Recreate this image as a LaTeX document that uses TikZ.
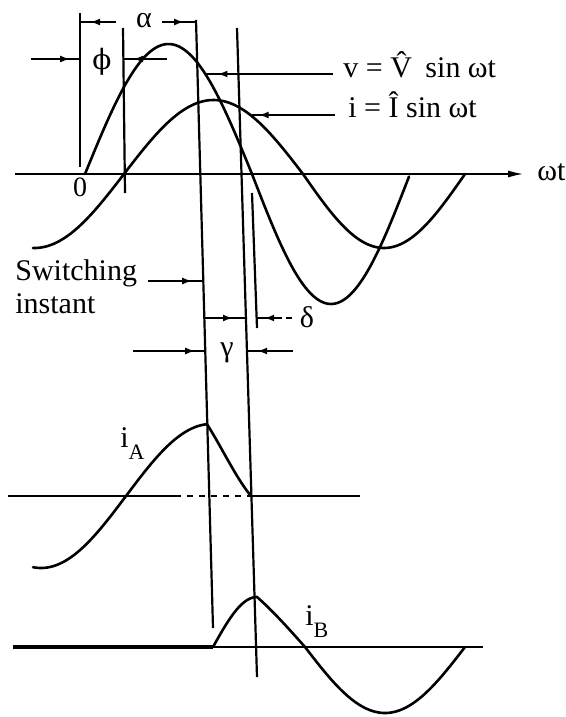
\documentclass[tikz,border=0pt]{standalone}
\usepackage{fontspec}
\setmainfont{Liberation Serif}
\newfontfamily\dvserif{DejaVu Serif}
\usetikzlibrary{arrows.meta,decorations.markings}
\begin{document}
\begin{tikzpicture}[x=0.5pt,y=-0.5pt,
  curve/.style={line width=1.3pt,line join=round,line cap=round},
  vline/.style={line width=1.1pt},
  dim/.style={line width=1pt},
  tipat/.style={postaction={decorate},decoration={markings,mark=at position #1 with {\arrow{Latex[length=5pt,width=3.5pt]}}}},
  lbl/.style={font=\fontsize{15}{18}\selectfont,inner sep=0pt}]
\useasboundingbox (0,0) rectangle (566,717);

% ---------- vertical reference lines ----------
\coordinate (L0t) at (80,13);   \coordinate (L0b) at (80,167);
\coordinate (Lpt) at (123,28);  \coordinate (Lpb) at (125,193);
\coordinate (L1t) at (196,20);  \coordinate (L1b) at (213,628);
\coordinate (L2t) at (237,28);  \coordinate (L2b) at (257,677);
\coordinate (Ldt) at (252,193); \coordinate (Ldb) at (257,328);
\draw[vline] (L0t) -- (L0b);
\draw[vline] (Lpt) -- (Lpb);
\draw[vline] (L1t) -- (L1b);
\draw[vline] (L2t) -- (L2b);
\draw[vline] (Ldt) -- (Ldb);

% ---------- top axis ----------
\coordinate (ax0) at (15,174); \coordinate (ax1) at (524,174);
\draw[line width=1pt,-{Latex[length=8pt,width=3.5pt]}] (ax0) -- (ax1);
\node[lbl,anchor=base west] (wt) at (537,180) {ωt};
\node[font=\fontsize{14}{16}\selectfont,inner sep=0pt,anchor=base] (zero) at (80,196) {0};

% v and i
\draw[curve] plot[domain=85:252,samples=60] (\x,{174-130*sin((\x-85)/167*180)})
  -- plot[domain=252:409,samples=60] (\x,{174+130*sin((\x-252)/158*180)});
\draw[curve] plot[domain=33:303,samples=80] (\x,{174-74*sin((\x-124)/179*180)})
  -- plot[domain=303:465,samples=60] (\x,{174+74*sin((\x-303)/162*180)});

% ---------- phi ----------
\coordinate (phA) at (31,59);  \coordinate (phB) at (80,59);
\coordinate (phC) at (167,59); \coordinate (phD) at (123,59);
\draw[dim,tipat=0.8] (phA) -- (phB);
\draw[dim,tipat=0.77] (phC) -- (phD);
\node[lbl,font=\fontsize{14}{16}\selectfont\dvserif] (phi) at (102,62) {ϕ};

% ---------- alpha ----------
\coordinate (alA) at (116,22); \coordinate (alB) at (80,22);
\coordinate (alC) at (162,22); \coordinate (alD) at (196,22);
\draw[dim,tipat=0.72] (alA) -- (alB);
\draw[dim,tipat=0.65] (alC) -- (alD);
\node[lbl,anchor=base] (alpha) at (144,28) {α};

% ---------- v / i labels ----------
\coordinate (vlA) at (333,74); \coordinate (vlB) at (206,74);
\draw[dim,tipat=0.91] (vlA) -- (vlB);
\node[lbl,anchor=base west] (vlab) at (343,78) {v = \^{V}\hspace{3pt} sin ωt};
\coordinate (ilA) at (335,115); \coordinate (ilB) at (252,115);
\draw[dim,tipat=0.92] (ilA) -- (ilB);
\node[lbl,anchor=base west] (ilab) at (348,118) {i = \^{I} sin ωt};

% ---------- switching instant ----------
\node[lbl,anchor=base west] (sw1) at (15,280) {Switching};
\node[lbl,anchor=base west] (sw2) at (15,313) {instant};
\coordinate (swA) at (148,281); \coordinate (swB) at (203.3,281);
\draw[dim,tipat=0.8] (swA) -- (swB);

% ---------- delta ----------
\coordinate (deA) at (204.3,318); \coordinate (deB) at (245.9,318);
\draw[dim,tipat=0.69] (deA) -- (deB);
\coordinate (deC) at (282,318); \coordinate (deD) at (256.6,318);
\draw[dim,tipat=0.7] (deC) -- (deD);
\coordinate (deE) at (286,318); \coordinate (deF) at (292,318);
\draw[dim] (deE) -- (deF);
\node[lbl,anchor=base] (delta) at (307,327) {δ};

% ---------- gamma ----------
\coordinate (gaA) at (133,351); \coordinate (gaB) at (205.3,351);
\draw[dim,tipat=0.86] (gaA) -- (gaB);
\coordinate (gaC) at (293,351); \coordinate (gaD) at (247,351);
\draw[dim,tipat=0.78] (gaC) -- (gaD);
\node[lbl,anchor=base] (gamma) at (227,356) {γ};

% ---------- i_A ----------
\draw[line width=1pt] (8,496) -- (175,496);
\draw[line width=0.8pt,dashed] (175,496) -- (250,496);
\draw[line width=1pt] (250,496) -- (360,496);
\draw[curve] plot[domain=33:207,samples=60] (\x,{496-72*sin((\x-126)/170*180)})
  .. controls (221,446) and (236,478) .. (251,496);
\node[lbl,anchor=base west] (iA) at (120,447) {i\raisebox{-6pt}{\fontsize{11}{12}\selectfont A}};

% ---------- i_B ----------
\draw[line width=2pt] (13,647) -- (213,647);
\draw[line width=1pt] (213,647) -- (483,647);
\draw[curve] plot[domain=213:257,samples=30] (\x,{647-50*sin((\x-213)/44*90)})
  .. controls (272,610) and (290,630) .. (305,647)
  -- plot[domain=305:465,samples=60] (\x,{647+66*sin((\x-305)/160*180)});
\node[lbl,anchor=base west] (iB) at (305,625) {i\raisebox{-6pt}{\fontsize{11}{12}\selectfont B}};
\end{tikzpicture}
\end{document}
